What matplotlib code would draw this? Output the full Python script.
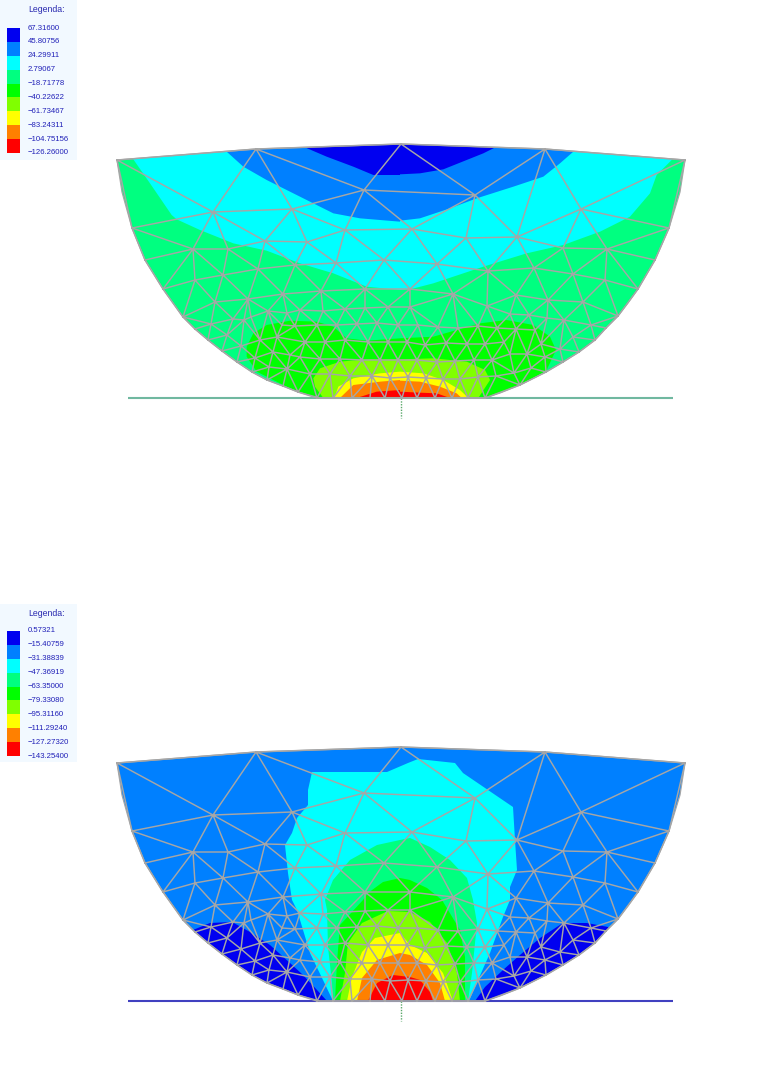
import numpy as np
import matplotlib
matplotlib.use("Agg")
import matplotlib.pyplot as plt
from matplotlib.patches import Polygon, Rectangle
from matplotlib.tri import Triangulation

# ---------- legend data ----------
BAND_COLORS = ["#0000f0", "#0080ff", "#00ffff", "#00ff80", "#00ff00",
               "#80ff00", "#ffff00", "#ff8000", "#ff0000"]
TOP_LABELS = ["67.31600", "45.80756", "24.29911", "2.79067", "\u221218.71778",
              "\u221240.22622", "\u221261.73467", "\u221283.24311", "\u2212104.75156", "\u2212126.26000"]
BOT_LABELS = ["0.57321", "\u221215.40759", "\u221231.38839", "\u221247.36919", "\u221263.35000",
              "\u221279.33080", "\u221295.31160", "\u2212111.29240", "\u2212127.27320", "\u2212143.25400"]

# ---------- geometry, in pixels of the lower panel ----------
PANEL_SHIFT = 603
DOME = [(117,763),(256,752),(401,747),(545,752),(685,763),
        (680,795),(669,831),(655,863),(638,892),(628,906),(618,919),(606,931),(595,943),(579,955),
        (563,965),(546,975),(520,988),(500,996),(485,1001),(320,1001),(298,995),(283,989),(267,983),
        (252,975),(237,965),(222,954),(208,943),(195,932),(183,920),(173,906),(163,892),(145,863),
        (132,831),(122,795)]

MESH = [(117,763),(256,752),(401,747),(545,752),(685,763),
    (132,831),(213,815),(292,812),(364,793),(475,798),(581,812),(669,831),
    (145,863),(193,852),(228,852),(265,844),(307,845),(345,833),(412,832),(466,841),(517,840),(563,851),(607,852),(655,863),
    (195,883),(223,878),(258,872),(295,868),(336,866),(384,863),(437,867),(488,874),(534,871),(573,877),(605,883),
    (163,892),(410,892),(638,892),
    (215,905),(248,902),(283,897),(321,894),(365,892),(453,897),(516,898),(548,903),(583,905),
    (183,920),(211,927),(233,922),(251,920),(268,914),(287,916),(300,913),(323,914),(345,912),(365,911),(388,910),(410,910),
    (487,909),(510,917),(529,918),(547,921),(564,923),(591,928),(606,931),(618,919),
    (195,932),(227,938),(244,923),(260,943),(277,940),(282,928),(295,929),(317,928),(337,928),(357,927),(377,926),(398,928),
    (418,928),(438,930),(458,931),(478,929),(497,931),(516,932),(535,933),(573,940),(595,943),
    (208,943),(241,949),(273,955),(290,958),(305,945),(325,945),(345,943),(368,945),(388,945),(407,945),
    (425,948),(446,946),(467,947),(485,947),(504,945),(527,957),(541,947),(560,952),(579,955),
    (222,954),(255,961),(300,960),(320,962),(340,962),(362,963),(380,963),(398,963),
    (417,963),(437,965),(455,964),(474,963),(492,963),(510,957),(545,960),(563,965),
    (237,965),(269,970),(287,972),(310,977),(330,977),(350,979),(372,979),(390,981),(408,980),
    (426,981),(443,982),(460,982),(478,980),(496,979),(514,976),(531,971),(546,975),
    (252,975),(267,983),(283,989),(298,995),(520,988),
    (317,1001),(333,1001),(352,1001),(370,1001),(385,1001),(402,1001),(417,1001),(435,1001),(452,1001),(468,1001),(485,1001)]
# mesh edges that the reference joins the other way round: (edge to remove)
FLIP_EDGES = [((401,747),(412,832))]

# contour regions of the upper panel, crop coordinates: left part origin (100,130), right part origin (400,130), scale 3
T_CYAN = ([(70,50),(100,88),(150,160),(215,255),(230,268),(300,300),(400,340),(500,362),(600,400),(700,430),(800,470),(900,480)],
          [(30,478),(100,460),(250,410),(380,370),(490,345),(600,305),(690,260),(750,190),(770,135),(815,90),(840,50)])
T_MIDBLUE = ([(350,20),(380,65),(430,110),(500,150),(600,200),(700,250),(780,265),(900,275)],
             [(0,272),(60,265),(150,235),(230,205),(340,170),(430,140),(480,100),(520,65),(540,20)])
T_BLUE = ([(580,20),(610,50),(680,80),(760,110),(820,135),(900,135)],
          [(0,133),(60,130),(130,118),(200,90),(250,70),(290,50),(320,20)])
T_GREEN = ([(640,804),(560,770),(470,725),(440,680),(440,650),(460,610),(500,585),(570,572),(650,575),(700,590),(740,625),(800,632),(900,625)],
           [(0,625),(100,620),(170,600),(240,580),(320,570),(400,585),(450,620),(468,660),(440,720),(380,760),(320,785),(260,804)])
T_LIME = ([(670,804),(645,770),(640,745),(660,715),(720,695),(800,688),(900,688)],
          [(0,688),(100,685),(200,695),(255,720),(270,750),(235,804)])
T_YELLOW = ([(703,804),(715,770),(760,745),(840,730),(900,725)],
            [(0,725),(70,730),(130,750),(180,780),(205,804)])
T_ORANGE = ([(720,804),(760,765),(840,755),(900,750)],
            [(0,752),(60,755),(120,770),(170,790),(185,804)])
T_RED = ([(770,804),(830,785),(900,780)],
         [(0,785),(60,788),(110,790),(150,804)])

# contour regions of the lower panel, pixels
B_BLUE_L = [(193,930),(210,923),(232,922),(250,932),(270,945),(290,963),(303,975),(317,990),(327,1001),(300,1010),(170,960)]
B_BLUE_R = [(475,1001),(485,987),(503,970),(520,955),(540,938),(563,923),(587,923),(608,927),(640,960),(500,1010)]
B_CYAN = [(312,772),(387,772),(408,763),(418,759),(455,763),(463,773),(488,790),(513,807),(515,840),(517,870),
          (510,887),(510,900),(503,917),(490,953),(475,987),(469,1001),(333,1001),(323,980),(310,953),(297,910),
          (292,900),(288,873),(285,845),(292,833),(297,818),(308,805),(308,790)]
B_SPRING = [(333,1001),(332,983),(328,947),(327,910),(325,900),(333,880),(350,860),(377,845),(400,840),(410,838),
            (430,847),(450,860),(467,878),(473,900),(477,923),(472,973),(468,1001)]
B_GREEN = [(335,1001),(337,962),(340,925),(363,900),(368,893),(383,882),(400,878),(410,880),(427,888),(442,900),
           (460,930),(465,957),(465,1001)]
B_LIME = [(340,1001),(345,973),(348,943),(362,923),(388,911),(410,912),(430,922),(447,943),(457,973),(460,1001)]
B_YELLOW = [(347,1001),(352,977),(362,952),(375,938),(400,933),(410,945),(427,953),(443,973),(453,1001)]
B_ORANGE = [(357,1001),(362,978),(377,960),(400,953),(410,955),(427,965),(440,983),(445,1001)]
B_RED = [(368,1001),(377,983),(393,975),(410,977),(420,980),(430,992),(433,1001)]


def crop_region(parts):
    a, b = (np.array(p, dtype=float) for p in parts)
    return np.vstack([np.column_stack([100 + a[:, 0] / 3, 130 + a[:, 1] / 3]),
                      np.column_stack([400 + b[:, 0] / 3, 130 + b[:, 1] / 3])])


fig = plt.figure(figsize=(7.57, 10.68), dpi=100)
ax = fig.add_axes([0, 0, 1, 1])
ax.set_xlim(0, 757)
ax.set_ylim(1068, 0)
ax.axis("off")

nodes = np.array(MESH, dtype=float)
tri = Triangulation(nodes[:, 0], nodes[:, 1])
triangles = tri.triangles.copy()
# flip the listed diagonals so that the mesh follows the reference
for a, b in FLIP_EDGES:
    ia, ib = MESH.index(a), MESH.index(b)
    hit = [k for k, t in enumerate(triangles) if ia in t and ib in t]
    if len(hit) == 2:
        c, d = [[v for v in triangles[k] if v not in (ia, ib)][0] for k in hit]
        triangles[hit[0]] = [ia, c, d]
        triangles[hit[1]] = [ib, c, d]
# drop sliver triangles lying along the convex hull
p = nodes[triangles]
e = np.linalg.norm(p - np.roll(p, 1, axis=1), axis=2)
area = 0.5 * np.abs((p[:, 1, 0] - p[:, 0, 0]) * (p[:, 2, 1] - p[:, 0, 1])
                    - (p[:, 2, 0] - p[:, 0, 0]) * (p[:, 1, 1] - p[:, 0, 1]))
keep = 2 * area / e.max(axis=1) >= 3.0
triangles = triangles[keep]
dome = np.array(DOME, dtype=float)
GREY = "#a6a6a6"


def draw_panel(shift, base, layers, labels, line_color, legend_top, bg_top, bg_h):
    d = dome + [0, shift]
    clip = Polygon(d, closed=True, fc=base, ec="none", zorder=1)
    ax.add_patch(clip)
    for pts, color in layers:
        pg = Polygon(pts, closed=True, fc=color, ec="none", zorder=2)
        ax.add_patch(pg)
        pg.set_clip_path(clip)
    y0 = 1001 + shift
    ax.plot([128, 673], [y0, y0], color=line_color, lw=1.5, zorder=3, solid_capstyle="butt")
    ax.plot([401, 401], [y0, y0 + 20], color="#5aa86a", lw=1, ls=(0, (1, 1)), zorder=3)
    t2 = Triangulation(nodes[:, 0], nodes[:, 1] + shift, triangles)
    ax.triplot(t2, color=GREY, lw=1.05, zorder=4)
    ax.add_patch(Polygon(d, closed=True, fc="none", ec=GREY, lw=0.9, zorder=5))
    # legend
    ax.add_patch(Rectangle((0, bg_top), 77, bg_h, fc="#f2f9ff", ec="none", zorder=0))
    step = 125 / 9
    for i, c in enumerate(BAND_COLORS):
        ax.bar(13.5, step + 0.3, width=13, bottom=legend_top + i * step, color=c, zorder=6)
    ax.text(28, bg_top + 10, "Legenda:", fontsize=6.3, color="#2a2ab0", family="Liberation Sans",
            va="center", ha="left")
    for i, s in enumerate(labels):
        ax.text(28, legend_top + i * step, s, fontsize=5.6, color="#2020b8",
                family="Liberation Sans", va="center", ha="left")


draw_panel(-PANEL_SHIFT, "#00ff80",
           [(crop_region(T_CYAN), "#00ffff"), (crop_region(T_MIDBLUE), "#0080ff"), (crop_region(T_BLUE), "#0000f0"),
            (crop_region(T_GREEN), "#00ff00"), (crop_region(T_LIME), "#80ff00"), (crop_region(T_YELLOW), "#ffff00"),
            (crop_region(T_ORANGE), "#ff8000"), (crop_region(T_RED), "#ff0000")],
           TOP_LABELS, "#70b8a0", 28, 0, 160)
draw_panel(0, "#0080ff",
           [(B_BLUE_L, "#0000f0"), (B_BLUE_R, "#0000f0"), (B_CYAN, "#00ffff"), (B_SPRING, "#00ff80"),
            (B_GREEN, "#00ff00"), (B_LIME, "#80ff00"), (B_YELLOW, "#ffff00"), (B_ORANGE, "#ff8000"),
            (B_RED, "#ff0000")],
           BOT_LABELS, "#4040c0", 631, 604, 158)

fig.savefig("out.png", dpi=100)
